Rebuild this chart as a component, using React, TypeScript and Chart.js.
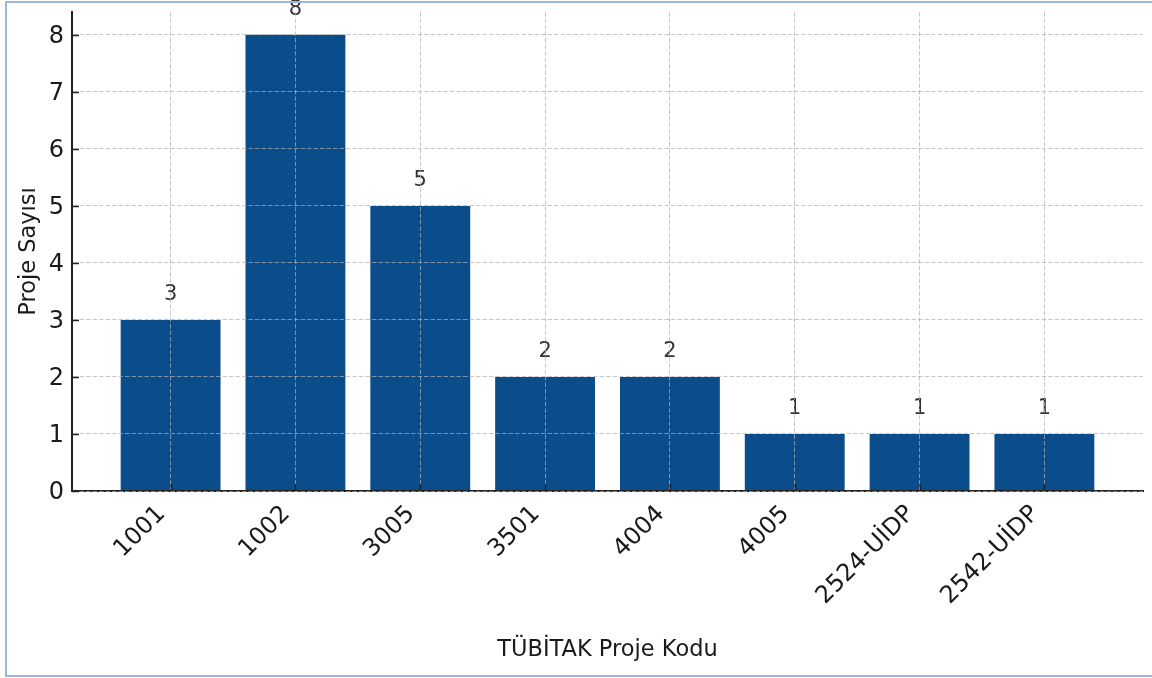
import React, { useEffect, useRef } from "react";
import { Chart, registerables } from "chart.js";

Chart.register(...registerables);

const categories = ["1001", "1002", "3005", "3501", "4004", "4005", "2524-UİDP", "2542-UİDP"];
const projectCounts = [3, 8, 5, 2, 2, 1, 1, 1];
const yTickValues = [0, 1, 2, 3, 4, 5, 6, 7, 8];

const FONT = "'DejaVu Sans', 'Liberation Sans', sans-serif";
const BAR_COLOR = "#0b4c8a";
const GRID_COLOR = "rgba(176,176,176,0.7)";
const AXIS_COLOR = "#222222";
const TEXT_COLOR = "#1a1a1a";

const valueLabelPlugin = {
  id: "valueLabels",
  afterDatasetsDraw(chart: any) {
    const ctx = chart.ctx;
    const meta = chart.getDatasetMeta(0);
    ctx.save();
    ctx.font = `21px ${FONT}`;
    ctx.fillStyle = "#333333";
    ctx.textAlign = "center";
    ctx.textBaseline = "alphabetic";
    meta.data.forEach((bar: any, i: number) => {
      ctx.fillText(String(projectCounts[i]), bar.x, bar.y - 20);
    });
    ctx.restore();
  },
};

const innerTicksPlugin = {
  id: "innerTicks",
  afterDraw(chart: any) {
    const ctx = chart.ctx;
    const area = chart.chartArea;
    const xs = chart.scales.x;
    const ys = chart.scales.y;
    ctx.save();
    ctx.strokeStyle = AXIS_COLOR;
    ctx.lineWidth = 1.5;
    ys.ticks.forEach((t: any) => {
      const py = Math.round(ys.getPixelForValue(t.value)) + 0.5;
      ctx.beginPath();
      ctx.moveTo(area.left, py);
      ctx.lineTo(area.left + 7, py);
      ctx.stroke();
    });
    xs.ticks.forEach((t: any) => {
      const px = Math.round(xs.getPixelForValue(t.value)) + 0.5;
      ctx.beginPath();
      ctx.moveTo(px, area.bottom);
      ctx.lineTo(px, area.bottom - 7);
      ctx.stroke();
    });
    ctx.restore();
  },
};

export default function App() {
  const canvasRef = useRef<HTMLCanvasElement | null>(null);

  useEffect(() => {
    if (!canvasRef.current) return;
    const chart = new Chart(canvasRef.current, {
      type: "bar",
      data: {
        datasets: [
          {
            data: projectCounts.map((v, i) => ({ x: i, y: v })),
            backgroundColor: BAR_COLOR,
            borderWidth: 0,
            barPercentage: 0.8,
            categoryPercentage: 1.0,
          },
        ],
      },
      options: {
        animation: false,
        responsive: false,
        events: [],
        layout: { padding: { left: 0, right: 9, top: 12, bottom: 0 } },
        plugins: {
          legend: { display: false },
          tooltip: { enabled: false },
          title: { display: false },
        },
        scales: {
          x: {
            type: "linear",
            min: -0.79,
            max: 7.79,
            offset: false,
            afterBuildTicks: (s: any) => {
              s.ticks = categories.map((_, i) => ({ value: i }));
            },
            afterFit: (s: any) => {
              s.height = 187;
              s.paddingLeft = 0;
              s.paddingRight = 0;
            },
            ticks: {
              autoSkip: false,
              minRotation: 45,
              maxRotation: 45,
              padding: 9,
              labelOffset: -9,
              color: TEXT_COLOR,
              font: { family: FONT, size: 24 },
              callback: (v: any) => categories[v] ?? "",
            },
            grid: { color: GRID_COLOR, lineWidth: 1, drawTicks: false, offset: false, z: 1 },
            border: { display: true, color: AXIS_COLOR, width: 2, dash: [4.5, 2], z: 1 },
            title: {
              display: true,
              text: "TÜBİTAK Proje Kodu",
              color: TEXT_COLOR,
              font: { family: FONT, size: 22.5 },
              padding: { top: 0, bottom: 14 },
            },
          },
          y: {
            type: "linear",
            min: 0,
            max: 8.4,
            afterBuildTicks: (s: any) => {
              s.ticks = yTickValues.map((v) => ({ value: v }));
            },
            afterFit: (s: any) => {
              s.width = 72;
              s.paddingTop = 0;
              s.paddingBottom = 0;
            },
            ticks: {
              padding: 8,
              labelOffset: 2,
              color: TEXT_COLOR,
              font: { family: FONT, size: 24 },
            },
            grid: { color: GRID_COLOR, lineWidth: 1, drawTicks: false, offset: false, z: 1 },
            border: { display: true, color: AXIS_COLOR, width: 2, dash: [4.5, 2], z: 1 },
            title: {
              display: true,
              text: "Proje Sayısı",
              color: TEXT_COLOR,
              font: { family: FONT, size: 22.5 },
              padding: { top: 15.5, bottom: 0 },
            },
          },
        },
      } as any,
      plugins: [valueLabelPlugin, innerTicksPlugin],
    });
    return () => chart.destroy();
  }, []);

  return (
    <div
      style={{
        position: "fixed",
        left: 0,
        top: 0,
        width: 1152,
        height: 678,
        overflow: "hidden",
        background: "#ffffff",
      }}
    >
      <canvas
        ref={canvasRef}
        width={1152}
        height={678}
        style={{ position: "absolute", left: 0, top: 0, width: 1152, height: 678 }}
      />
      <div
        style={{
          position: "absolute",
          left: 5,
          top: 1,
          width: 1200,
          height: 676,
          boxSizing: "border-box",
          borderTop: "2px solid #9ab6df",
          borderLeft: "2px solid #9ab6df",
          borderBottom: "2px solid #9ab6df",
          pointerEvents: "none",
        }}
      />
    </div>
  );
}
